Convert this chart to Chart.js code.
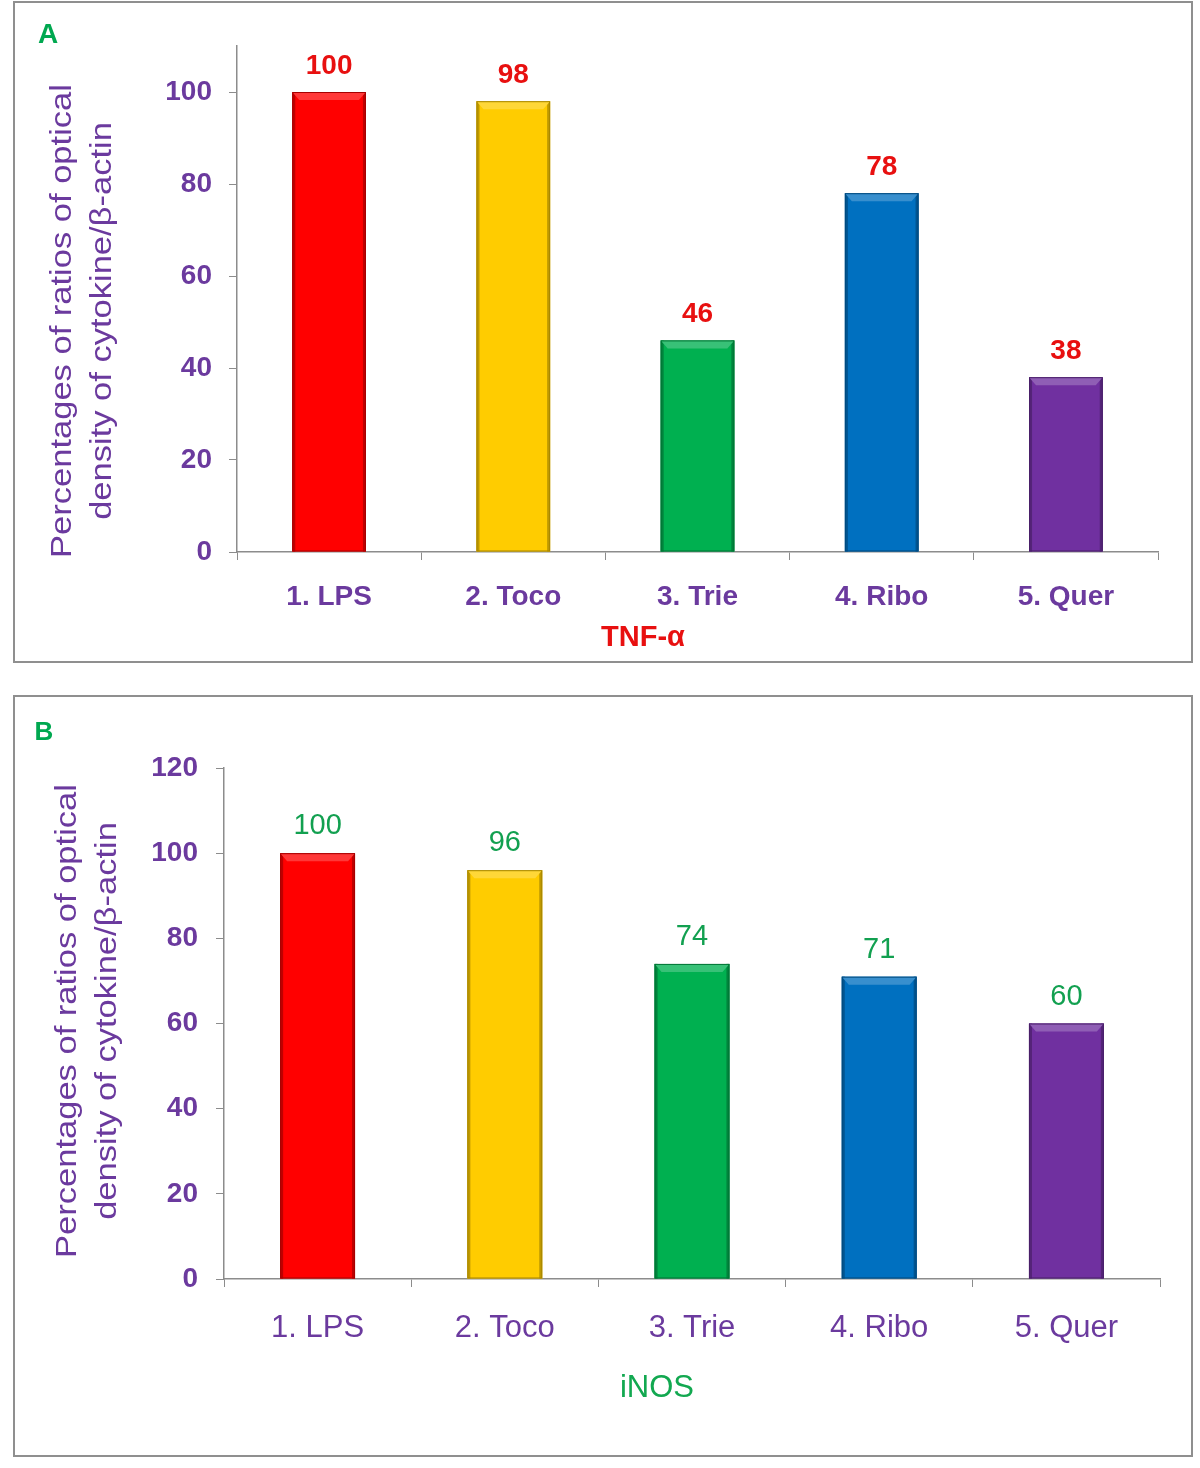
<!DOCTYPE html>
<html><head><meta charset="utf-8">
<script src="https://cdn.jsdelivr.net/npm/chart.js@4/dist/chart.umd.min.js"></script>
<style>
html,body{margin:0;padding:0;background:#fff;}
.panel{position:absolute;left:13px;width:1176px;border:2px solid #8f8f8f;background:#fff;}
#pa{top:1px;height:658px;}
#pb{top:695px;height:758px;}
canvas{display:block;}
</style></head><body>
<div class="panel" id="pa"><canvas id="ca" width="1176" height="658"></canvas></div>
<div class="panel" id="pb"><canvas id="cb" width="1176" height="758"></canvas></div>
<script>
// ---- data ----
const categories = ['1. LPS', '2. Toco', '3. Trie', '4. Ribo', '5. Quer'];
const tnfValues = [100, 98, 46, 78, 38];
const inosValues = [100, 96, 74, 71, 60];
const tnfTicks = [0, 20, 40, 60, 80, 100];
const inosTicks = [0, 20, 40, 60, 80, 100, 120];
const barColors = ['#FF0000', '#FFCC00', '#00B050', '#0070C0', '#7030A0'];
const yTitleLines = ['Percentages of ratios of optical', 'density of cytokine/\u03B2-actin'];

const FONT = '"Liberation Sans", Arial, sans-serif';
const PURPLE = '#6B3A9E';
const AXIS = '#8c8c8c';

function shade(hex, amt) {
  const n = parseInt(hex.slice(1), 16);
  let r = (n >> 16) & 255, g = (n >> 8) & 255, b = n & 255;
  const f = c => amt < 0 ? Math.round(c * (1 + amt)) : Math.round(c + (255 - c) * amt);
  return `rgb(${f(r)},${f(g)},${f(b)})`;
}

const decorPlugin = {
  id: 'decor',
  afterDatasetsDraw(chart) {
    const o = chart.options.plugins.decor;
    const ctx = chart.ctx;
    const meta = chart.getDatasetMeta(0);
    const ds = chart.data.datasets[0];
    meta.data.forEach((bar, i) => {
      const p = bar.getProps(['x', 'y', 'base', 'width'], true);
      const l = p.x - p.width / 2, r = p.x + p.width / 2;
      const col = barColors[i];
      ctx.save();
      ctx.fillStyle = shade(col, -0.25);
      ctx.fillRect(l, p.y, 3, p.base - p.y);
      ctx.fillRect(r - 3, p.y, 3, p.base - p.y);
      ctx.beginPath();
      ctx.moveTo(l, p.y); ctx.lineTo(r, p.y);
      ctx.lineTo(r - 7, p.y + 8); ctx.lineTo(l + 7, p.y + 8); ctx.closePath();
      ctx.fillStyle = shade(col, 0.22);
      ctx.fill();
      ctx.strokeStyle = shade(col, -0.35);
      ctx.lineWidth = 1;
      ctx.strokeRect(l + 0.5, p.y + 0.5, p.width - 1, p.base - p.y - 1);
      ctx.fillStyle = o.valueColor;
      ctx.font = o.valueFont;
      ctx.textAlign = 'center';
      ctx.textBaseline = 'alphabetic';
      ctx.fillText(String(ds.data[i]), p.x, p.y - o.valueGap);
      ctx.restore();
    });
    ctx.save();
    ctx.fillStyle = o.letterColor;
    ctx.font = o.letterFont;
    ctx.textAlign = 'center';
    ctx.textBaseline = 'middle';
    ctx.fillText(o.letter, o.letterPos[0], o.letterPos[1]);
    ctx.fillStyle = o.xTitleColor;
    ctx.font = o.xTitleFont;
    ctx.fillText(o.xTitle, o.xTitlePos[0], o.xTitlePos[1]);
    ctx.restore();
    yTitleLines.forEach((t, k) => {
      ctx.save();
      ctx.translate(o.yTitleX[k], o.yTitleY);
      ctx.rotate(-Math.PI / 2);
      ctx.scale(1.19, 1);
      ctx.fillStyle = PURPLE;
      ctx.font = '29px ' + FONT;
      ctx.textAlign = 'center';
      ctx.textBaseline = 'middle';
      ctx.fillText(t, 0, 0);
      ctx.restore();
    });
  }
};

function makeChart(id, values, ticks, cfg) {
  return new Chart(document.getElementById(id), {
    type: 'bar',
    data: {
      labels: categories,
      datasets: [{
        data: values,
        backgroundColor: barColors,
        borderWidth: 0,
        barPercentage: 0.5,
        categoryPercentage: 0.8
      }]
    },
    options: {
      responsive: false,
      devicePixelRatio: 1,
      animation: false,
      layout: { padding: { left: 0, right: cfg.padRight, top: cfg.padTop, bottom: 0 } },
      plugins: {
        legend: { display: false },
        tooltip: { enabled: false },
        decor: cfg.decor
      },
      scales: {
        x: {
          afterFit: s => { s.height = cfg.xHeight; },
          grid: { drawOnChartArea: false, drawTicks: true, tickLength: 8, color: AXIS, offset: true },
          border: { display: true, color: AXIS, width: 1.5 },
          ticks: { color: PURPLE, font: cfg.xFont, padding: cfg.xPad }
        },
        y: {
          min: 0, max: cfg.yMax,
          afterFit: s => { s.width = cfg.yWidth; },
          afterBuildTicks: s => { s.ticks = ticks.map(v => ({ value: v })); },
          grid: { drawOnChartArea: false, drawTicks: true, tickLength: 8, color: AXIS },
          border: { display: true, color: AXIS, width: 1.5 },
          ticks: { color: PURPLE, font: { family: FONT, size: 28, weight: 'bold' }, padding: cfg.yPad }
        }
      }
    },
    plugins: [decorPlugin]
  });
}

makeChart('ca', tnfValues, tnfTicks, {
  yMax: 110, yWidth: 222, xHeight: 109, padTop: 43, padRight: 33,
  xFont: { family: FONT, size: 28, weight: 'bold' }, xPad: 20, yPad: 17,
  decor: {
    valueColor: '#E81010', valueFont: 'bold 28px ' + FONT, valueGap: 18,
    letter: 'A', letterColor: '#00A850', letterFont: 'bold 28px ' + FONT, letterPos: [33, 32],
    xTitle: 'TNF-\u03B1', xTitleColor: '#E81010', xTitleFont: 'bold 29px ' + FONT, xTitlePos: [628, 635],
    yTitleX: [48, 88], yTitleY: 318
  }
});

makeChart('cb', inosValues, inosTicks, {
  yMax: 120, yWidth: 209, xHeight: 176, padTop: 71, padRight: 31,
  xFont: { family: FONT, size: 31 }, xPad: 23, yPad: 18,
  decor: {
    valueColor: '#12A050', valueFont: '29px ' + FONT, valueGap: 19,
    letter: 'B', letterColor: '#00A850', letterFont: 'bold 26px ' + FONT, letterPos: [29, 36],
    xTitle: 'iNOS', xTitleColor: '#12A850', xTitleFont: '31px ' + FONT, xTitlePos: [642, 691],
    yTitleX: [53, 93], yTitleY: 324
  }
});
</script>
</body></html>
